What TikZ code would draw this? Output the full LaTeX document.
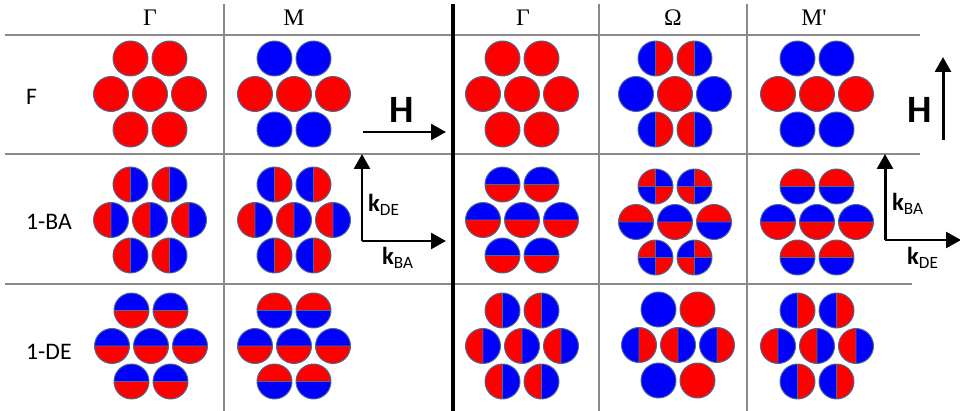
\documentclass[tikz,border=0pt]{standalone}
\usepackage{fontspec}
\setmainfont{Carlito}
\newfontfamily\greekfont{Liberation Serif}
\usepackage{tikz}
\usetikzlibrary{arrows.meta,positioning}
\definecolor{spinred}{HTML}{FF0000}
\definecolor{spinblue}{HTML}{0000FF}
\definecolor{rimgray}{HTML}{4A6A8E}
\definecolor{gridgray}{HTML}{8A8A8A}

% one disc, drawn at the origin
\newcommand{\rr}{0.35cm}
\newcommand{\sdisc}[1]{%
  \fill[#1] (0,0) circle[radius=\rr];
  \draw[rim] (0,0) circle[radius=\rr];}
\newcommand{\lrdisc}[2]{% left, right
  \fill[#1] (90:\rr) arc[start angle=90,end angle=270,radius=\rr] -- cycle;
  \fill[#2] (-90:\rr) arc[start angle=-90,end angle=90,radius=\rr] -- cycle;
  \draw[rim] (90:\rr) -- (-90:\rr) (0,0) circle[radius=\rr];}
\newcommand{\tbdisc}[2]{% top, bottom
  \fill[#1] (0:\rr) arc[start angle=0,end angle=180,radius=\rr] -- cycle;
  \fill[#2] (180:\rr) arc[start angle=180,end angle=360,radius=\rr] -- cycle;
  \draw[rim] (180:\rr) -- (0:\rr) (0,0) circle[radius=\rr];}
\newcommand{\qdisc}[4]{% TL, TR, BL, BR
  \fill[#2] (0,0) -- (0:\rr) arc[start angle=0,end angle=90,radius=\rr] -- cycle;
  \fill[#1] (0,0) -- (90:\rr) arc[start angle=90,end angle=180,radius=\rr] -- cycle;
  \fill[#3] (0,0) -- (180:\rr) arc[start angle=180,end angle=270,radius=\rr] -- cycle;
  \fill[#4] (0,0) -- (270:\rr) arc[start angle=270,end angle=360,radius=\rr] -- cycle;
  \draw[rim] (180:\rr) -- (0:\rr) (90:\rr) -- (-90:\rr) (0,0) circle[radius=\rr];}
% seven discs round a centre
\newcommand{\hexa}[8]{%
  \begin{scope}[shift={(#1)}]
    \begin{scope}[shift={(-19.5,-35.5)}]#2\end{scope}
    \begin{scope}[shift={(19.5,-35.5)}]#3\end{scope}
    \begin{scope}[shift={(-39,0)}]#4\end{scope}
    #5
    \begin{scope}[shift={(39,0)}]#6\end{scope}
    \begin{scope}[shift={(-19.5,35.5)}]#7\end{scope}
    \begin{scope}[shift={(19.5,35.5)}]#8\end{scope}
  \end{scope}}

\begin{document}
\begin{tikzpicture}[
  x=0.02cm, y=-0.02cm,
  rim/.style={draw=rimgray, line width=0.55pt},
  grid/.style={draw=gridgray, line width=0.6pt},
  bar/.style={draw=black, line width=2.3pt},
  vec/.style={-{Triangle[length=8.5pt,width=9pt]}, line width=1.7pt},
  colhead/.style={font=\greekfont\fontsize{13.5}{15}\selectfont},
  rowhead/.style={anchor=west, font=\fontsize{13.5}{16}\selectfont},
  field/.style={font=\bfseries\fontsize{22}{26}\selectfont},
  wave/.style={font=\fontsize{14}{16}\selectfont, inner sep=0pt}
]
\useasboundingbox (0,0) rectangle (960,411);

% table
\draw[grid] (5,35) -- (920,35);
\draw[grid] (5,154) -- (920,154);
\draw[grid] (5,284) -- (912,284);
\draw[grid] (224,4) -- (224,411);
\draw[grid] (599,4) -- (599,411);
\draw[grid] (747,4) -- (747,411);
\draw[bar] (453,4) -- (453,411);

\node[colhead] (gam1) at (150,18) {Γ};
\node[colhead] (em1) at (294,18) {M};
\node[colhead] (gam2) at (523,18) {Γ};
\node[colhead] (omg) at (673,18) {Ω};
\node[colhead] (em2) at (814,18) {M\textquotesingle};

\node[rowhead] (rowF) at (20,97) {F};
\node[rowhead] (rowBA) at (20,222) {1-BA};
\node[rowhead] (rowDE) at (20,352) {1-DE};

% cluster centres
\coordinate (cGF) at (150,94);
\coordinate (cMF) at (294,94);
\coordinate (cGFr) at (522,94);
\coordinate (cOF) at (675,94);
\coordinate (cMFr) at (817,94);
\coordinate (cGB) at (150,220);
\coordinate (cMB) at (294,220);
\coordinate (cGBr) at (522,220);
\coordinate (cOB) at (675,222);
\coordinate (cMBr) at (817,222);
\coordinate (cGD) at (151,346);
\coordinate (cMD) at (294,346);
\coordinate (cGDr) at (522,346);
\coordinate (cOD) at (678,345);
\coordinate (cMDr) at (817,346);

% F
\hexa{cGF}{\sdisc{spinred}}{\sdisc{spinred}}{\sdisc{spinred}}{\sdisc{spinred}}{\sdisc{spinred}}{\sdisc{spinred}}{\sdisc{spinred}}
\hexa{cMF}{\sdisc{spinblue}}{\sdisc{spinblue}}{\sdisc{spinred}}{\sdisc{spinred}}{\sdisc{spinred}}{\sdisc{spinblue}}{\sdisc{spinblue}}
\hexa{cGFr}{\sdisc{spinred}}{\sdisc{spinred}}{\sdisc{spinred}}{\sdisc{spinred}}{\sdisc{spinred}}{\sdisc{spinred}}{\sdisc{spinred}}
\hexa{cOF}{\lrdisc{spinblue}{spinred}}{\lrdisc{spinred}{spinblue}}{\sdisc{spinblue}}{\sdisc{spinred}}{\sdisc{spinblue}}{\lrdisc{spinblue}{spinred}}{\lrdisc{spinred}{spinblue}}
\hexa{cMFr}{\sdisc{spinblue}}{\sdisc{spinblue}}{\sdisc{spinred}}{\sdisc{spinred}}{\sdisc{spinred}}{\sdisc{spinblue}}{\sdisc{spinblue}}

% 1-BA
\hexa{cGB}{\lrdisc{spinred}{spinblue}}{\lrdisc{spinred}{spinblue}}{\lrdisc{spinred}{spinblue}}{\lrdisc{spinred}{spinblue}}{\lrdisc{spinred}{spinblue}}{\lrdisc{spinred}{spinblue}}{\lrdisc{spinred}{spinblue}}
\hexa{cMB}{\lrdisc{spinblue}{spinred}}{\lrdisc{spinblue}{spinred}}{\lrdisc{spinred}{spinblue}}{\lrdisc{spinred}{spinblue}}{\lrdisc{spinred}{spinblue}}{\lrdisc{spinblue}{spinred}}{\lrdisc{spinblue}{spinred}}
\hexa{cGBr}{\tbdisc{spinblue}{spinred}}{\tbdisc{spinblue}{spinred}}{\tbdisc{spinblue}{spinred}}{\tbdisc{spinblue}{spinred}}{\tbdisc{spinblue}{spinred}}{\tbdisc{spinblue}{spinred}}{\tbdisc{spinblue}{spinred}}
\hexa{cOB}{\qdisc{spinred}{spinblue}{spinblue}{spinred}}{\qdisc{spinblue}{spinred}{spinred}{spinblue}}{\tbdisc{spinred}{spinblue}}{\tbdisc{spinblue}{spinred}}{\tbdisc{spinred}{spinblue}}{\qdisc{spinred}{spinblue}{spinblue}{spinred}}{\qdisc{spinblue}{spinred}{spinred}{spinblue}}
\hexa{cMBr}{\tbdisc{spinred}{spinblue}}{\tbdisc{spinred}{spinblue}}{\tbdisc{spinblue}{spinred}}{\tbdisc{spinblue}{spinred}}{\tbdisc{spinblue}{spinred}}{\tbdisc{spinred}{spinblue}}{\tbdisc{spinred}{spinblue}}

% 1-DE
\hexa{cGD}{\tbdisc{spinblue}{spinred}}{\tbdisc{spinblue}{spinred}}{\tbdisc{spinblue}{spinred}}{\tbdisc{spinblue}{spinred}}{\tbdisc{spinblue}{spinred}}{\tbdisc{spinblue}{spinred}}{\tbdisc{spinblue}{spinred}}
\hexa{cMD}{\tbdisc{spinred}{spinblue}}{\tbdisc{spinred}{spinblue}}{\tbdisc{spinblue}{spinred}}{\tbdisc{spinblue}{spinred}}{\tbdisc{spinblue}{spinred}}{\tbdisc{spinred}{spinblue}}{\tbdisc{spinred}{spinblue}}
\hexa{cGDr}{\lrdisc{spinred}{spinblue}}{\lrdisc{spinred}{spinblue}}{\lrdisc{spinred}{spinblue}}{\lrdisc{spinred}{spinblue}}{\lrdisc{spinred}{spinblue}}{\lrdisc{spinred}{spinblue}}{\lrdisc{spinred}{spinblue}}
\hexa{cOD}{\sdisc{spinblue}}{\sdisc{spinred}}{\lrdisc{spinblue}{spinred}}{\lrdisc{spinred}{spinblue}}{\lrdisc{spinblue}{spinred}}{\sdisc{spinblue}}{\sdisc{spinred}}
\hexa{cMDr}{\lrdisc{spinblue}{spinred}}{\lrdisc{spinblue}{spinred}}{\lrdisc{spinred}{spinblue}}{\lrdisc{spinred}{spinblue}}{\lrdisc{spinred}{spinblue}}{\lrdisc{spinblue}{spinred}}{\lrdisc{spinblue}{spinred}}

% field and wave vectors, left
\coordinate (hA) at (363,132);
\coordinate (hB) at (446,132);
\draw[vec] (hA) -- (hB);
\node[field] (hlab) at (402,110) {H};
\coordinate (kO) at (362,241);
\coordinate (kU) at (362,154);
\coordinate (kR) at (446,241);
\draw[vec] (kO) -- (kU);
\draw[vec] (kO) -- (kR);
\node[wave] (kde) at (384,205) {\textbf{k}\textsubscript{DE}};
\node[wave] (kba) at (398,258) {\textbf{k}\textsubscript{BA}};

% field and wave vectors, right
\coordinate (vA) at (943,140);
\coordinate (vB) at (943,57);
\draw[vec] (vA) -- (vB);
\node[field] (vlab) at (920,110) {H};
\coordinate (qO) at (885,240);
\coordinate (qU) at (885,154);
\coordinate (qR) at (961,240);
\draw[vec] (qO) -- (qU);
\draw[vec] (qO) -- (qR);
\node[wave] (qba) at (908,204) {\textbf{k}\textsubscript{BA}};
\node[wave] (qde) at (923,258) {\textbf{k}\textsubscript{DE}};
\end{tikzpicture}
\end{document}
